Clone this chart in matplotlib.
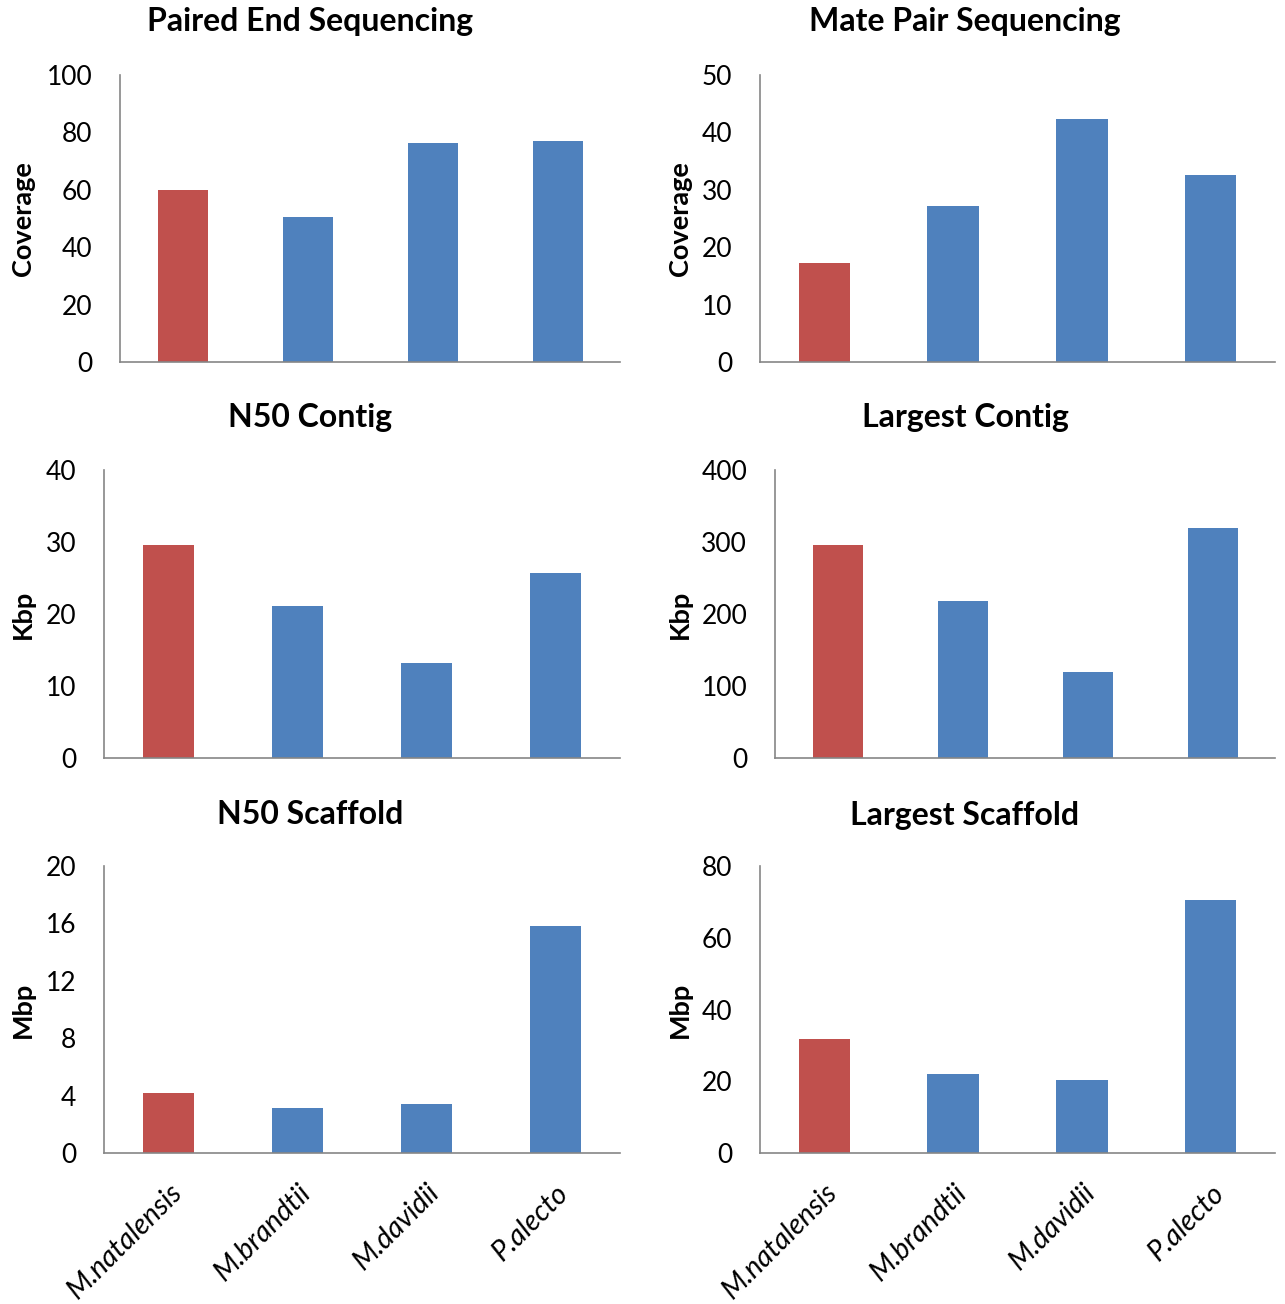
import matplotlib
matplotlib.use("Agg")
import matplotlib.pyplot as plt

plt.rcParams['font.family'] = ['Lato', 'DejaVu Sans']

species = ["M.natalensis", "M.brandtii", "M.davidii", "P.alecto"]
paired_end = [60, 50.5, 76.3, 77]
mate_pair = [17.2, 27.2, 42.3, 32.6]
n50_contig = [29.6, 21.1, 13.2, 25.7]
largest_contig = [296, 218, 119, 319]
n50_scaffold = [4.18, 3.14, 3.41, 15.8]
largest_scaffold = [31.8, 22.0, 20.3, 70.5]

panels = [
    ("Paired End Sequencing", "Coverage", paired_end, [0, 20, 40, 60, 80, 100]),
    ("Mate Pair Sequencing", "Coverage", mate_pair, [0, 10, 20, 30, 40, 50]),
    ("N50 Contig", "Kbp", n50_contig, [0, 10, 20, 30, 40]),
    ("Largest Contig", "Kbp", largest_contig, [0, 100, 200, 300, 400]),
    ("N50 Scaffold", "Mbp", n50_scaffold, [0, 4, 8, 12, 16, 20]),
    ("Largest Scaffold", "Mbp", largest_scaffold, [0, 20, 40, 60, 80]),
]

RED = "#C0504D"
BLUE = "#4F81BD"
colors = [RED, BLUE, BLUE, BLUE]

W, H = 1285, 1304
fig = plt.figure(figsize=(W / 100, H / 100), dpi=100)

# axes boxes in pixels: left, right, top, bottom
boxes = [
    (120, 620, 75, 362), (760, 1275, 75, 362),
    (104, 620, 470, 758), (775, 1275, 470, 758),
    (104, 620, 866, 1153), (760, 1275, 866, 1153),
]
title_x = [310, 965]
title_y = [22, 418, 815]
ylabel_x = [35, 692]

for i, (title, ylab, vals, ticks) in enumerate(panels):
    l, r, t, b = boxes[i]
    ax = fig.add_axes([l / W, 1 - b / H, (r - l) / W, (b - t) / H])
    ax.bar(range(len(species)), vals, width=0.4, color=colors)
    ax.set_xlim(-0.5, len(species) - 0.5)
    ax.set_ylim(ticks[0], ticks[-1])
    ax.set_yticks(ticks)
    ax.tick_params(axis='y', length=0, pad=20, labelsize=19)
    ax.tick_params(axis='x', length=0)
    for s in ["top", "right"]:
        ax.spines[s].set_visible(False)
    for s in ["left", "bottom"]:
        ax.spines[s].set_color("#868686")
        ax.spines[s].set_linewidth(1.2)
    if i >= 4:
        ax.set_xticks(range(len(species)))
        ax.set_xticklabels(species, rotation=45, ha='right', rotation_mode='anchor',
                           fontsize=20.5, style='italic')
        ax.tick_params(axis='x', pad=19)
    else:
        ax.set_xticks([])
    ax.set_ylabel(ylab, fontsize=19.5, fontweight='bold')
    ax.yaxis.set_label_coords(ylabel_x[i % 2] / W, 1 - (t + b) / 2 / H, transform=fig.transFigure)
    fig.text(title_x[i % 2] / W, 1 - title_y[i // 2] / H, title, ha='center', va='center',
             fontsize=23, fontweight='bold')

fig.savefig("out.png", dpi=100)
